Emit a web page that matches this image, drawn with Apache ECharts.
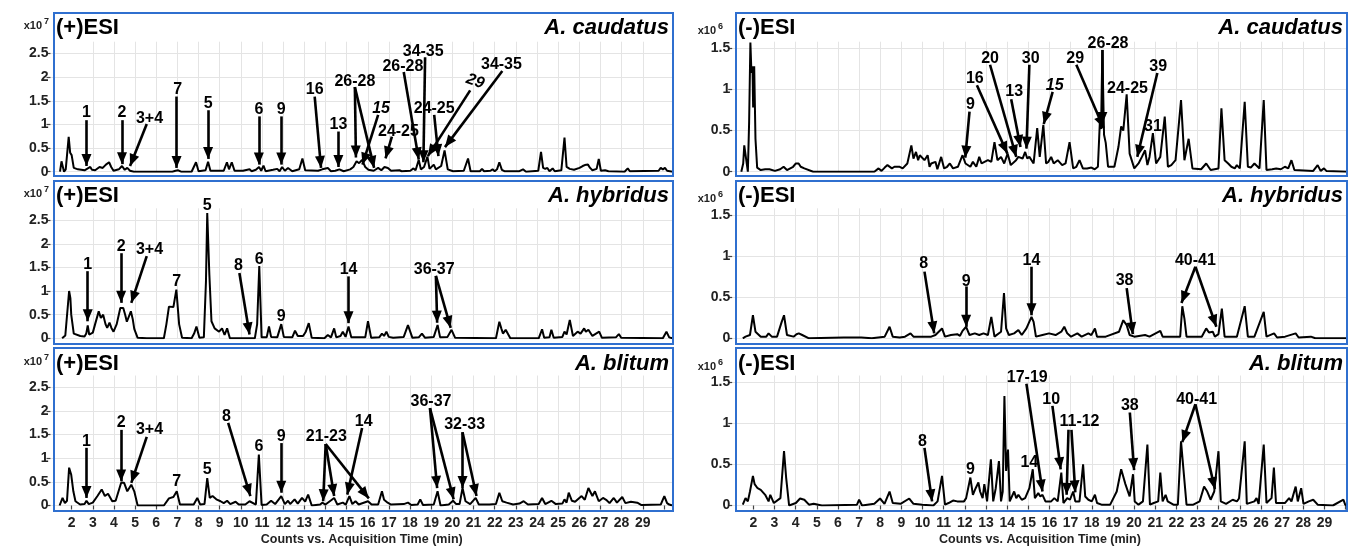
<!DOCTYPE html>
<html>
<head>
<meta charset="utf-8">
<title>Chromatograms</title>
<script src="https://cdn.jsdelivr.net/npm/echarts@6/dist/echarts.min.js"></script>
<style>
  html, body { margin: 0; padding: 0; background: #fff; }
  #chart { width: 1349px; height: 548px; }
</style>
</head>
<body>
<div id="chart"></div>
<script>
// [retention time (min), counts]
// (+)ESI counts in x10^7, (-)ESI counts in x10^6
const posCaudatus = [[1.45,0],[1.52,0.22],[1.58,0.2],[1.64,0],[1.72,0.05],[1.86,0.74],[1.93,0.4],[2.0,0.35],[2.1,0.08],[2.3,0.05],[2.61,0.03],[2.88,0.1],[2.96,0.04],[3.11,0.03],[3.32,0.1],[3.47,0.08],[3.62,0.15],[3.77,0.2],[3.87,0.1],[3.98,0.02],[4.23,0.05],[4.38,0.12],[4.51,0.04],[4.63,0.08],[4.76,0.02],[4.94,0],[6.76,0],[6.91,0.02],[7.04,0.03],[7.17,0],[7.67,0],[7.88,0.2],[8.0,0.01],[8.33,0.03],[8.45,0.21],[8.56,0.02],[9.19,0.02],[9.34,0.2],[9.44,0.05],[9.57,0.2],[9.7,0.02],[10.1,0.02],[10.41,0.05],[10.51,0.01],[10.71,0.04],[10.86,0.1],[10.96,0.02],[11.07,0.13],[11.17,0.01],[11.52,0.04],[11.72,0.06],[11.83,0.01],[11.95,0.1],[12.08,0.02],[12.23,0.08],[12.43,0.01],[12.76,0.05],[12.91,0.28],[13.04,0.03],[13.65,0.02],[13.85,0.05],[14.11,0.08],[14.26,0.01],[14.46,0.02],[14.66,0.05],[14.86,0.01],[15.17,0.05],[15.32,0.1],[15.47,0.22],[15.59,0.18],[15.73,0.25],[15.88,0.1],[16.03,0.04],[16.28,0.02],[16.49,0.08],[16.64,0.03],[16.79,0.1],[16.95,0.08],[17.1,0.02],[17.5,0.03],[17.6,0.01],[18.01,0.02],[18.16,0.07],[18.26,0.03],[18.41,0.25],[18.51,0.05],[18.66,0.1],[18.82,0.32],[18.92,0.06],[19.12,0.15],[19.22,0.05],[19.47,0.12],[19.63,0.45],[19.78,0.05],[20.03,0.01],[20.54,0.02],[20.74,0.28],[20.86,0.01],[21.3,0.01],[21.4,0.06],[21.5,0.01],[21.8,0.02],[21.9,0.05],[22.0,0.01],[22.11,0.05],[22.22,0.2],[22.34,0.04],[22.46,0.01],[23.17,0.01],[23.34,0.05],[23.48,0],[24.06,0.02],[24.19,0.42],[24.29,0.08],[24.39,0.06],[24.49,0.08],[24.59,0.01],[24.74,0.07],[24.84,0.01],[25.15,0.03],[25.3,0.72],[25.4,0.1],[25.55,0.06],[25.75,0.04],[26.01,0.08],[26.16,0.12],[26.26,0.14],[26.41,0.15],[26.51,0.08],[26.62,0.03],[26.82,0.06],[26.92,0.27],[27.02,0.02],[27.22,0.03],[27.38,0.01],[28.14,0],[28.29,0.07],[28.39,0.01],[29.75,0.02],[29.85,0.08],[29.95,0.05],[30.05,0.08],[30.15,0.02],[30.4,0]];

const posHybridus = [[1.55,0],[1.63,0.03],[1.7,0.06],[1.78,0.02],[1.88,1.0],[1.94,0.85],[1.98,0.5],[2.1,0.1],[2.18,0.07],[2.41,0.05],[2.61,0.04],[2.69,0.1],[2.76,0.27],[2.83,0.08],[3.0,0.12],[3.11,0.3],[3.28,0.57],[3.38,0.43],[3.49,0.5],[3.6,0.3],[3.68,0.22],[3.79,0.33],[3.88,0.22],[3.98,0.14],[4.13,0.3],[4.3,0.64],[4.44,0.64],[4.53,0.5],[4.61,0.35],[4.8,0.57],[4.89,0.4],[4.96,0.2],[5.12,0.01],[5.55,0],[6.36,0],[6.48,0.3],[6.6,0.67],[6.68,0.71],[6.81,0.66],[6.95,1.03],[7.08,0.3],[7.22,0.01],[7.67,0],[7.79,0.1],[7.9,0.25],[8.04,0.01],[8.25,0.02],[8.35,1.2],[8.41,2.65],[8.51,1.35],[8.61,0.36],[8.76,0.21],[8.97,0.14],[9.11,0.21],[9.23,0.07],[9.35,0.21],[9.48,0],[10.66,0],[10.77,0.3],[10.87,1.53],[10.98,0.02],[11.22,0.02],[11.33,0.25],[11.43,0.03],[11.72,0.02],[11.91,0.3],[12.03,0.03],[12.43,0.02],[12.56,0.16],[12.69,0.05],[12.77,0.07],[12.94,0.05],[13.07,0.14],[13.21,0.32],[13.35,0.01],[13.95,0],[14.11,0.07],[14.26,0.02],[14.41,0.21],[14.51,0.02],[14.71,0.05],[14.82,0.14],[14.95,0.03],[15.09,0.25],[15.22,0.02],[15.88,0.02],[16.01,0.36],[16.16,0.01],[16.54,0.02],[16.67,0.1],[16.77,0.05],[16.88,0.14],[16.99,0.03],[17.08,0.07],[17.2,0.01],[17.7,0.03],[17.9,0.28],[18.11,0.01],[18.41,0.02],[18.56,0.1],[18.71,0.01],[19.12,0.03],[19.3,0.28],[19.42,0.02],[19.77,0.03],[19.96,0.18],[20.13,0.01],[22.06,0],[22.22,0.35],[22.32,0.2],[22.39,0.1],[22.52,0.18],[22.74,0],[24.08,0],[24.24,0.19],[24.34,0.01],[24.59,0.02],[24.68,0.18],[24.79,0.01],[25.2,0.03],[25.3,0.14],[25.4,0.08],[25.55,0.39],[25.7,0.05],[25.92,0.14],[26.06,0.1],[26.23,0.21],[26.31,0.14],[26.43,0.18],[26.62,0.05],[26.94,0.14],[27.07,0.01],[27.73,0.02],[27.87,0.09],[27.98,0.01],[29.95,0],[30.12,0.14],[30.25,0.02],[30.4,0]];

const posBlitum = [[1.43,0],[1.57,0.16],[1.68,0.05],[1.78,0.1],[1.88,0.8],[1.98,0.65],[2.08,0.3],[2.18,0.09],[2.4,0.02],[2.61,0.03],[2.7,0.1],[2.81,0.03],[3.0,0.06],[3.22,0.2],[3.42,0.34],[3.57,0.2],[3.72,0.25],[3.92,0.09],[4.08,0.1],[4.34,0.48],[4.48,0.48],[4.63,0.3],[4.82,0.44],[4.96,0.3],[5.12,0],[6.36,0],[6.6,0.15],[6.81,0.18],[6.97,0.3],[7.12,0.02],[7.77,0.02],[7.94,0.16],[8.08,0.02],[8.28,0.03],[8.41,0.58],[8.53,0.16],[8.66,0.2],[8.84,0.13],[9.04,0.09],[9.19,0.05],[9.35,0.1],[9.5,0.03],[9.75,0.08],[9.9,0.02],[10.21,0.02],[10.41,0.09],[10.71,0.02],[10.85,1.08],[10.98,0.01],[11.22,0.02],[11.43,0.1],[11.62,0.03],[11.91,0.2],[12.08,0.03],[12.23,0.1],[12.33,0.03],[12.54,0.13],[12.69,0.04],[12.89,0.16],[13.04,0.08],[13.18,0.23],[13.35,0],[13.75,0.02],[13.85,0.06],[14.0,0.02],[14.41,0.16],[14.56,0.02],[14.82,0.06],[14.96,0.02],[15.13,0.2],[15.27,0.03],[15.42,0.09],[15.57,0.02],[16.01,0.09],[16.18,0.02],[16.49,0.02],[16.67,0.3],[16.77,0.12],[16.94,0.06],[17.1,0.02],[17.7,0.03],[17.9,0.06],[18.06,0.01],[18.36,0.02],[18.48,0.13],[18.61,0.01],[19.12,0.02],[19.3,0.3],[19.44,0],[19.83,0.02],[20.03,0.1],[20.18,0.03],[20.34,0.03],[20.48,0.37],[20.62,0.09],[20.84,0.03],[21.1,0.16],[21.25,0.02],[21.75,0.02],[22.06,0.03],[22.22,0.27],[22.36,0.09],[22.56,0.06],[22.87,0.02],[23.17,0.04],[23.37,0.09],[23.57,0.02],[24.08,0.03],[24.24,0.16],[24.39,0.03],[24.68,0.1],[24.89,0.03],[25.2,0.04],[25.3,0.13],[25.4,0.06],[25.5,0.27],[25.65,0.1],[25.8,0.08],[26.11,0.2],[26.26,0.12],[26.43,0.37],[26.62,0.2],[26.74,0.3],[26.92,0.09],[27.12,0.16],[27.27,0.12],[27.43,0.05],[27.63,0.16],[27.78,0.06],[28.03,0.18],[28.18,0.05],[28.44,0.08],[28.74,0.06],[28.94,0.01],[29.85,0.02],[30.02,0.2],[30.15,0.05],[30.25,0.02],[30.4,0]];

const negCaudatus = [[1.43,0],[1.52,0.1],[1.57,0.32],[1.66,0.32],[1.74,0],[1.8,0.6],[1.86,1.57],[1.91,1.2],[1.96,1.28],[1.99,0.78],[2.04,1.28],[2.1,0.4],[2.18,0.05],[2.35,0.02],[2.56,0.03],[2.76,0.03],[3.02,0.01],[3.27,0.03],[3.43,0.06],[3.59,0.02],[3.88,0.06],[4.01,0.1],[4.14,0.1],[4.24,0.06],[4.41,0.04],[4.83,0],[7.72,0],[7.92,0.04],[8.06,0.01],[8.21,0.05],[8.34,0.08],[8.55,0.04],[8.67,0.06],[8.75,0.04],[8.92,0.06],[9.06,0.04],[9.28,0.1],[9.47,0.32],[9.57,0.16],[9.69,0.24],[9.79,0.14],[9.87,0.2],[9.95,0.22],[10.09,0.14],[10.24,0.2],[10.33,0.06],[10.41,0.1],[10.61,0.12],[10.7,0.03],[10.88,0.18],[11.02,0.04],[11.16,0.06],[11.29,0.1],[11.44,0.04],[11.67,0.06],[11.89,0.2],[12.03,0.1],[12.26,0.06],[12.38,0.12],[12.54,0.06],[12.68,0.18],[12.79,0.1],[12.88,0.1],[13.09,0.14],[13.25,0.12],[13.4,0.36],[13.54,0.14],[13.71,0.18],[13.86,0.1],[14.02,0.22],[14.17,0.08],[14.23,0.1],[14.42,0.14],[14.53,0.18],[14.73,0.16],[14.85,0.24],[14.95,0.16],[15.05,0.18],[15.25,0.1],[15.42,0.53],[15.54,0.18],[15.71,0.57],[15.84,0.1],[15.95,0.12],[16.08,0.18],[16.2,0.1],[16.39,0.14],[16.6,0.08],[16.76,0.1],[16.95,0.36],[17.12,0.04],[17.27,0.06],[17.42,0.14],[17.58,0.04],[17.78,0.04],[17.98,0.05],[18.14,0.03],[18.29,0.06],[18.38,0.59],[18.44,0.52],[18.5,1.48],[18.58,0.45],[18.66,0.35],[18.77,0.06],[19.07,0.06],[19.26,0.3],[19.39,0.55],[19.49,0.5],[19.65,0.94],[19.79,0.22],[20.01,0.04],[20.21,0.1],[20.37,0.18],[20.52,0.26],[20.63,0.08],[20.73,0.18],[20.89,0.47],[21.04,0.1],[21.24,0.18],[21.45,0.67],[21.6,0.06],[21.76,0.08],[21.96,0.14],[22.22,0.87],[22.38,0.14],[22.58,0.4],[22.76,0.04],[23.17,0.03],[23.41,0.1],[23.62,0.02],[23.99,0.04],[24.13,0.77],[24.28,0.14],[24.45,0.1],[24.6,0.06],[24.76,0.04],[24.86,0.08],[25.0,0.04],[25.23,0.85],[25.38,0.06],[25.52,0.05],[25.69,0.1],[25.93,0.04],[26.13,0.87],[26.26,0.02],[26.53,0.03],[26.72,0.04],[26.94,0.03],[27.13,0.06],[27.29,0.04],[27.44,0.14],[27.58,0.02],[28.47,0.01],[28.68,0.08],[28.82,0.01],[28.98,0.04],[29.09,0.01],[30.1,0]];

const negHybridus = [[1.5,0],[1.63,0.02],[1.84,0.04],[1.98,0.28],[2.1,0.08],[2.35,0.02],[2.61,0.02],[2.72,0.06],[2.87,0.02],[3.12,0.02],[3.34,0.2],[3.45,0.28],[3.59,0.04],[3.9,0.02],[4.04,0.05],[4.15,0.06],[4.31,0.04],[4.63,0],[6.28,0.01],[7.1,0.01],[7.6,0],[8.21,0.02],[8.44,0.14],[8.59,0.02],[8.92,0.01],[9.17,0.02],[9.43,0.06],[9.57,0.02],[10.41,0.02],[10.61,0.04],[10.92,0.12],[11.06,0.02],[11.34,0.04],[11.64,0.05],[11.77,0.03],[11.89,0.09],[12.06,0.14],[12.22,0.04],[12.47,0.06],[12.68,0.04],[12.88,0.06],[13.09,0.04],[13.25,0.26],[13.4,0.02],[13.71,0.08],[13.85,0.55],[13.95,0.12],[14.08,0.04],[14.33,0.06],[14.53,0.1],[14.69,0.04],[14.91,0.12],[14.99,0.1],[15.15,0.26],[15.25,0.2],[15.36,0.02],[15.67,0.04],[15.98,0.06],[16.29,0.04],[16.56,0.08],[16.7,0.14],[16.84,0.06],[17.02,0.02],[17.32,0.06],[17.52,0.02],[17.84,0.06],[17.98,0.04],[18.15,0.12],[18.25,0.02],[18.66,0.02],[19.29,0.08],[19.49,0.22],[19.65,0.16],[19.79,0.04],[20.01,0.02],[20.52,0.04],[20.73,0.02],[21.24,0.09],[21.35,0.02],[22.18,0.02],[22.28,0.39],[22.38,0.24],[22.48,0.02],[23.2,0.02],[23.41,0.12],[23.54,0.07],[23.72,0.08],[23.82,0.02],[23.99,0.05],[24.15,0.36],[24.28,0.02],[24.86,0.02],[25.23,0.39],[25.38,0.02],[25.69,0.02],[26.13,0.32],[26.26,0.02],[26.62,0.06],[26.76,0.01],[27.14,0.02],[27.64,0.06],[27.78,0.01],[28.36,0.02],[28.57,0],[30.1,0]];

const negBlitum = [[1.5,0.01],[1.63,0.09],[1.74,0.05],[1.84,0.17],[1.98,0.36],[2.06,0.26],[2.2,0.21],[2.35,0.19],[2.56,0.13],[2.72,0.05],[2.8,0.13],[2.97,0.03],[3.28,0.09],[3.45,0.66],[3.55,0.34],[3.69,0],[4.01,0.03],[4.21,0.085],[4.41,0.07],[4.63,0.01],[4.85,0.02],[5.24,0],[6.9,0.01],[7.0,0.07],[7.14,0],[7.72,0.02],[7.99,0.085],[8.2,0.02],[8.44,0.17],[8.59,0.03],[8.96,0.02],[9.37,0.085],[9.57,0.02],[9.99,0.01],[10.51,0],[10.71,0.05],[10.92,0.36],[11.06,0.01],[11.23,0.03],[11.44,0.06],[11.64,0.05],[11.96,0.05],[12.06,0.09],[12.26,0.34],[12.38,0.13],[12.51,0.21],[12.64,0.28],[12.72,0.17],[12.84,0.09],[12.92,0.26],[13.05,0.05],[13.23,0.56],[13.34,0.05],[13.46,0.21],[13.61,0.54],[13.71,0.05],[13.79,0.17],[13.87,1.33],[13.95,0.42],[14.04,0.68],[14.12,0.05],[14.33,0.17],[14.43,0.09],[14.53,0.13],[14.69,0.07],[14.85,0.09],[15.05,0.21],[15.21,0.44],[15.31,0.09],[15.47,0.15],[15.57,0.11],[15.67,0.13],[15.81,0.05],[16.08,0.05],[16.23,0.09],[16.39,0.05],[16.56,0.4],[16.66,0.03],[16.84,0.09],[16.97,0.07],[17.12,0.17],[17.22,0.05],[17.42,0.05],[17.59,0.5],[17.69,0.11],[17.84,0.07],[18.0,0.05],[18.15,0.13],[18.25,0.03],[18.46,0.01],[18.87,0.01],[19.18,0.17],[19.39,0.44],[19.59,0.26],[19.79,0.11],[19.95,0.38],[20.03,0.05],[20.21,0.01],[20.42,0.05],[20.63,0.74],[20.75,0.01],[20.93,0.03],[21.14,0.05],[21.24,0.4],[21.35,0.05],[21.49,0.13],[21.59,0.05],[21.86,0.01],[22.07,0.01],[22.22,0.78],[22.34,0.42],[22.48,0.01],[22.8,0.01],[23.1,0.05],[23.31,0.23],[23.46,0.17],[23.62,0.07],[23.79,0.17],[23.99,0.66],[24.1,0.05],[24.35,0.02],[24.66,0.07],[24.86,0.05],[24.96,0.085],[25.23,0.78],[25.33,0.02],[25.69,0.05],[25.79,0.09],[25.89,0.02],[26.13,0.74],[26.26,0.03],[26.5,0.09],[26.61,0.46],[26.71,0.03],[27.13,0.03],[27.33,0.09],[27.44,0.05],[27.64,0.23],[27.74,0.05],[27.9,0.21],[28.01,0.02],[28.26,0.05],[28.47,0.07],[28.68,0.01],[29.4,0],[29.9,0.07],[29.98,0.01],[30.1,0]];

// peak labels: text at [time, counts], arrows [fromT, fromY, toT, toY]
const annPosCaudatus = [
  {text: '1', at: [2.7, 1.24], arrows: [[2.7, 1.09, 2.7, 0.12]]},
  {text: '2', at: [4.38, 1.24], arrows: [[4.38, 1.09, 4.38, 0.16]]},
  {text: '3+4', at: [5.68, 1.13], arrows: [[5.55, 1.01, 4.76, 0.12]]},
  {text: '7', at: [7.01, 1.73], arrows: [[6.96, 1.59, 6.96, 0.08]]},
  {text: '5', at: [8.45, 1.45], arrows: [[8.45, 1.3, 8.45, 0.27]]},
  {text: '6', at: [10.85, 1.31], arrows: [[10.85, 1.17, 10.85, 0.15]]},
  {text: '9', at: [11.91, 1.31], arrows: [[11.91, 1.17, 11.91, 0.15]]},
  {text: '16', at: [13.49, 1.73], arrows: [[13.49, 1.59, 13.79, 0.08]]},
  {text: '13', at: [14.61, 0.99], arrows: [[14.61, 0.85, 14.61, 0.1]]},
  {text: '26-28', at: [15.39, 1.91], arrows: [[15.39, 1.79, 15.44, 0.3], [15.39, 1.79, 16.3, 0.08]]},
  {text: '15', at: [16.63, 1.34], italic: true, arrows: [[16.49, 1.2, 15.75, 0.15]]},
  {text: '24-25', at: [17.45, 0.85], arrows: [[17.14, 0.74, 16.84, 0.28]]},
  {text: '26-28', at: [17.66, 2.22], arrows: [[17.7, 2.11, 18.41, 0.26]]},
  {text: '34-35', at: [18.62, 2.54], arrows: [[18.71, 2.42, 18.63, 0.2]]},
  {text: '24-25', at: [19.14, 1.34], arrows: [[19.14, 1.2, 19.34, 0.33]]},
  {text: '29', at: [21.08, 1.91], italic: true, rotate: -20, arrows: [[20.84, 1.72, 18.84, 0.33]]},
  {text: '34-35', at: [22.32, 2.26], arrows: [[22.36, 2.13, 19.65, 0.52]]}
];
const annPosHybridus = [
  {text: '1', at: [2.76, 1.56], arrows: [[2.76, 1.42, 2.76, 0.36]]},
  {text: '2', at: [4.34, 1.95], arrows: [[4.34, 1.8, 4.34, 0.75]]},
  {text: '3+4', at: [5.68, 1.88], arrows: [[5.55, 1.74, 4.82, 0.75]]},
  {text: '7', at: [6.97, 1.2]},
  {text: '5', at: [8.41, 2.74], lift: 3},
  {text: '8', at: [9.89, 1.53], arrows: [[9.93, 1.38, 10.41, 0.08]]},
  {text: '6', at: [10.87, 1.67]},
  {text: '9', at: [11.91, 0.46]},
  {text: '14', at: [15.09, 1.46], arrows: [[15.09, 1.31, 15.09, 0.32]]},
  {text: '36-37', at: [19.14, 1.46], arrows: [[19.22, 1.32, 19.28, 0.33], [19.22, 1.32, 19.92, 0.22]]}
];
const annPosBlitum = [
  {text: '1', at: [2.7, 1.36], arrows: [[2.7, 1.22, 2.7, 0.16]]},
  {text: '2', at: [4.34, 1.75], arrows: [[4.34, 1.6, 4.34, 0.51]]},
  {text: '3+4', at: [5.68, 1.61], arrows: [[5.55, 1.45, 4.82, 0.48]]},
  {text: '7', at: [6.97, 0.51]},
  {text: '5', at: [8.41, 0.76]},
  {text: '8', at: [9.32, 1.89], arrows: [[9.4, 1.75, 10.45, 0.2]]},
  {text: '6', at: [10.85, 1.25]},
  {text: '9', at: [11.91, 1.46], arrows: [[11.91, 1.32, 11.91, 0.27]]},
  {text: '21-23', at: [14.04, 1.46], arrows: [[14.01, 1.3, 13.89, 0.09], [14.01, 1.3, 14.41, 0.2], [14.01, 1.3, 16.05, 0.15]]},
  {text: '14', at: [15.81, 1.78], arrows: [[15.73, 1.64, 15.03, 0.23]]},
  {text: '36-37', at: [18.99, 2.2], arrows: [[18.94, 2.06, 19.28, 0.37], [18.94, 2.06, 20.06, 0.13]]},
  {text: '32-33', at: [20.58, 1.71], arrows: [[20.48, 1.55, 20.48, 0.37], [20.48, 1.55, 21.14, 0.2]]}
];
const annNegCaudatus = [
  {text: '9', at: [12.26, 0.81], arrows: [[12.22, 0.73, 12.02, 0.17]]},
  {text: '16', at: [12.47, 1.13], arrows: [[12.57, 1.05, 14.01, 0.22]]},
  {text: '20', at: [13.19, 1.38], arrows: [[13.19, 1.3, 14.43, 0.18]]},
  {text: '13', at: [14.33, 0.97], arrows: [[14.19, 0.88, 14.63, 0.3]]},
  {text: '30', at: [15.11, 1.38], arrows: [[15.05, 1.3, 14.91, 0.28]]},
  {text: '15', at: [16.25, 1.05], italic: true, arrows: [[16.15, 0.97, 15.73, 0.58]]},
  {text: '29', at: [17.22, 1.38], arrows: [[17.27, 1.3, 18.56, 0.53]]},
  {text: '26-28', at: [18.77, 1.56], arrows: [[18.5, 1.48, 18.5, 0.58]]},
  {text: '24-25', at: [19.69, 1.01]},
  {text: '39', at: [21.14, 1.28], arrows: [[21.1, 1.2, 20.15, 0.18]]},
  {text: '31', at: [20.89, 0.55]}
];
const annNegHybridus = [
  {text: '8', at: [10.05, 0.91], arrows: [[10.09, 0.81, 10.55, 0.06]]},
  {text: '9', at: [12.06, 0.69], arrows: [[12.06, 0.63, 12.06, 0.14]]},
  {text: '14', at: [15.15, 0.95], arrows: [[15.15, 0.87, 15.15, 0.28]]},
  {text: '38', at: [19.55, 0.7], arrows: [[19.65, 0.61, 19.94, 0.05]]},
  {text: '40-41', at: [22.9, 0.95], arrows: [[22.9, 0.87, 22.24, 0.43], [22.9, 0.87, 23.89, 0.14]]}
];
const annNegBlitum = [
  {text: '8', at: [9.99, 0.78], arrows: [[10.09, 0.7, 10.45, 0.05]]},
  {text: '9', at: [12.26, 0.44]},
  {text: '14', at: [15.05, 0.52]},
  {text: '17-19', at: [14.95, 1.55], arrows: [[14.91, 1.48, 15.67, 0.17]]},
  {text: '10', at: [16.08, 1.29], arrows: [[16.14, 1.21, 16.53, 0.44]]},
  {text: '11-12', at: [17.42, 1.02], arrows: [[16.9, 0.92, 16.81, 0.13], [17.04, 0.92, 17.22, 0.16]]},
  {text: '38', at: [19.8, 1.21], arrows: [[19.8, 1.13, 20.0, 0.43]]},
  {text: '40-41', at: [22.96, 1.29], arrows: [[22.9, 1.23, 22.28, 0.77], [22.9, 1.23, 23.82, 0.2]]}
];

const samples = ['A. caudatus', 'A. hybridus', 'A. blitum'];
const modes = ['(+)ESI', '(-)ESI'];
const exponents = ['7', '6'];
const timeLabels = [2,3,4,5,6,7,8,9,10,11,12,13,14,15,16,17,18,19,20,21,22,23,24,25,26,27,28,29];
const timeTicks = timeLabels.concat([30]);

const traces = [[posCaudatus, negCaudatus], [posHybridus, negHybridus], [posBlitum, negBlitum]];
const notes = [[annPosCaudatus, annNegCaudatus], [annPosHybridus, annNegHybridus], [annPosBlitum, annNegBlitum]];

// layout
const FONT = '"Liberation Sans", Arial, sans-serif';
const rows = [
  {top: 41.7, zero: 171.7, box: [13, 176], head: 28},
  {top: 208.3, zero: 338.3, box: [181, 344], head: 196},
  {top: 375.5, zero: 505.5, box: [348, 511], head: 364}
];
const cols = [
  {left: 50.5, width: 622.5, max: 30.43, ymax: 2.75, box: [54, 673], expX: 42, expY: -2},
  {left: 732.2, width: 615.5, max: 30.1, ymax: 1.58, box: [736, 1347], expX: 716, expY: 3}
];

function buildMarks(list) {
  const lines = [];
  const points = [];
  list.forEach(function (n) {
    const p = {name: n.text, coord: n.at};
    const lab = {};
    if (n.italic) lab.fontStyle = 'italic';
    if (n.rotate) lab.rotate = n.rotate;
    if (n.lift) lab.offset = [0, -n.lift];
    if (Object.keys(lab).length) p.label = lab;
    points.push(p);
    (n.arrows || []).forEach(function (a) {
      lines.push([{coord: [a[0], a[1]]}, {coord: [a[2], a[3]]}]);
    });
  });
  return {lines: lines, points: points};
}

const grids = [], xAxes = [], yAxes = [], series = [], graphics = [];

rows.forEach(function (row, r) {
  cols.forEach(function (col, c) {
    const idx = grids.length;
    const bottom = r === rows.length - 1;
    grids.push({left: col.left, top: row.top, width: col.width, height: row.zero - row.top, show: false});

    xAxes.push({
      type: 'value', gridIndex: idx, min: 1, max: col.max, interval: 1,
      offset: bottom ? 7 : 0,
      axisLine: {show: false},
      axisTick: {show: bottom, customValues: timeTicks, length: 4, lineStyle: {color: '#444', width: 1.2}},
      axisLabel: {show: bottom, customValues: timeLabels, margin: 4, fontSize: 14, fontWeight: 'bold', color: '#222', fontFamily: FONT},
      splitLine: {show: true, showMinLine: false, showMaxLine: false, lineStyle: {color: '#e4e4e4', width: 1}},
      name: bottom ? 'Counts vs. Acquisition Time (min)' : '',
      nameLocation: 'middle', nameGap: 21,
      nameTextStyle: {fontSize: 12.5, fontWeight: 'bold', color: '#222', fontFamily: FONT}
    });

    yAxes.push({
      type: 'value', gridIndex: idx, min: 0, max: col.ymax, interval: 0.5,
      axisLine: {show: false},
      axisTick: {show: true, length: 4, lineStyle: {color: '#444', width: 1.2}},
      axisLabel: {showMaxLabel: false, margin: 2, fontSize: 14, fontWeight: 'bold', color: '#222', fontFamily: FONT},
      splitLine: {show: true, showMaxLine: false, lineStyle: {color: '#e4e4e4', width: 1}}
    });

    const marks = buildMarks(notes[r][c]);
    series.push({
      type: 'line', xAxisIndex: idx, yAxisIndex: idx,
      data: traces[r][c],
      showSymbol: false, silent: true,
      lineStyle: {color: '#000', width: 2},
      itemStyle: {color: '#000'},
      markLine: {
        silent: true,
        symbol: ['none', 'triangle'],
        symbolSize: [10, 12],
        symbolOffset: [[0, 0], [0, 6]],
        lineStyle: {color: '#000', width: 2.6, type: 'solid'},
        label: {show: false},
        emphasis: {disabled: true},
        data: marks.lines
      },
      markPoint: {
        silent: true,
        symbol: 'circle', symbolSize: 1,
        itemStyle: {color: 'rgba(0,0,0,0)'},
        label: {show: true, position: 'inside', formatter: '{b}', fontSize: 16, fontWeight: 'bold', color: '#000', fontFamily: FONT},
        data: marks.points
      }
    });

    // panel frame and headings
    graphics.push({
      type: 'rect', z: 50,
      shape: {x: col.box[0], y: row.box[0], width: col.box[1] - col.box[0], height: row.box[1] - row.box[0]},
      style: {fill: 'none', stroke: '#2f6fcf', lineWidth: 2}
    });
    graphics.push({
      type: 'text', z: 51, x: col.box[0] + 2, y: row.head,
      style: {text: modes[c], font: 'bold 22px ' + FONT, fill: '#000', align: 'left', verticalAlign: 'middle'}
    });
    graphics.push({
      type: 'text', z: 51, x: col.box[1] - 4, y: row.head,
      style: {text: samples[r], font: 'italic bold 22px ' + FONT, fill: '#000', align: 'right', verticalAlign: 'middle'}
    });
    graphics.push({
      type: 'text', z: 51, x: col.expX, y: row.head + col.expY,
      style: {text: 'x10', font: 'bold 11px ' + FONT, fill: '#222', align: 'right', verticalAlign: 'middle'}
    });
    graphics.push({
      type: 'text', z: 51, x: col.expX + 2, y: row.head + col.expY - 4,
      style: {text: exponents[c], font: 'bold 9px ' + FONT, fill: '#222', align: 'left', verticalAlign: 'middle'}
    });
  });
});

const chart = echarts.init(document.getElementById('chart'));
chart.setOption({
  animation: false,
  backgroundColor: '#fff',
  textStyle: {fontFamily: FONT},
  grid: grids,
  xAxis: xAxes,
  yAxis: yAxes,
  series: series,
  graphic: graphics
});
</script>
</body>
</html>
